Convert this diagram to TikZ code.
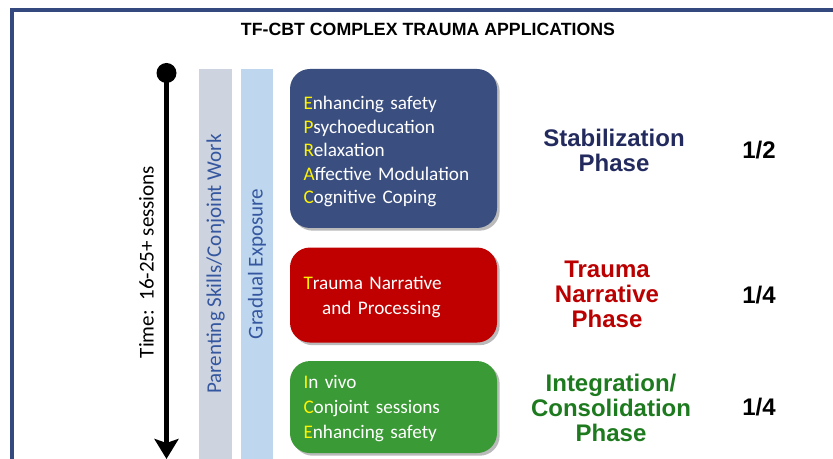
\documentclass[tikz,border=0pt]{standalone}
\usepackage{fontspec}
\setmainfont{Carlito}
\newfontfamily\headfont{Liberation Sans}
\usetikzlibrary{arrows.meta, positioning, shadows}
\definecolor{framecol}{HTML}{344A7E}
\definecolor{stabbox}{HTML}{3A4E80}
\definecolor{traumabox}{HTML}{C00000}
\definecolor{integbox}{HTML}{3A9A35}
\definecolor{parentbar}{HTML}{CDD3DF}
\definecolor{exposbar}{HTML}{BED6EE}
\definecolor{bartext}{HTML}{3557A0}
\definecolor{stabtext}{HTML}{232B5E}
\definecolor{traumatext}{HTML}{BA0000}
\definecolor{integtext}{HTML}{1E7A1E}
\newcommand{\yel}[1]{\textcolor{yellow}{#1}}
\tikzset{
  block/.style  = {rectangle, rounded corners=15pt, minimum width=155.25pt,
                   text width=135pt, inner xsep=10pt, align=left, text=white,
                   font=\fontsize{14.4}{17.6}\selectfont,
                   drop shadow={shadow xshift=2pt, shadow yshift=-2pt,
                                fill=black!45, opacity=0.6}},
  band/.style   = {rectangle, rotate=90, minimum width=292.5pt, inner sep=0pt,
                   text=bartext, font=\fontsize{15.8}{18}\selectfont},
  phase/.style  = {align=center, font=\headfont\bfseries\fontsize{18}{18.8}\selectfont},
  share/.style  = {font=\headfont\bfseries\fontsize{18}{18.8}\selectfont}
}

\begin{document}
\begin{tikzpicture}[x=0.75pt, y=-0.75pt]
  \useasboundingbox (0,0) rectangle (833,459);
  \clip (0,0) rectangle (833,459);
  \draw[framecol, line width=3pt] (11.5,9.8) rectangle (900,520);

  \node (title) [font=\headfont\bfseries\fontsize{13.3}{15}\selectfont] at (428,29)
    {TF-CBT COMPLEX TRAUMA APPLICATIONS};

  % time line
  \node (tstart) [circle, fill=black, minimum size=15pt, inner sep=0pt] at (166.5,73) {};
  \coordinate (tend) at (166.5,459);
  \draw[line width=4pt, -{Stealth[length=15pt, width=18pt, inset=3pt]}] (tstart.center) -- (tend);
  \node (time) [rotate=90, font=\fontsize{15.8}{18}\selectfont] at (146.5,262)
    {Time:\ \ 16-25+ sessions};

  % bands
  \node (parent) [band, fill=parentbar, minimum height=24.75pt] at (215.5,264)
    {Parenting Skills/Conjoint Work};
  \node (expos) [band, fill=exposbar, minimum height=24pt] at (257,264)
    {Gradual Exposure};

  % phase boxes
  \node (stab) [block, fill=stabbox, minimum height=119.25pt] at (393.5,148.5)
    {\rule{0pt}{15pt}\yel{E}nhancing safety\\ \yel{P}sychoeducation\\ \yel{R}elaxation\\
     \yel{A}ffective Modulation\\ \yel{C}ognitive Coping};
  \node (trauma) [block, fill=traumabox, minimum height=71.25pt, below=14.25pt of stab,
                  font=\fontsize{14.4}{18.75}\selectfont]
    {\rule{0pt}{13.5pt}\yel{T}rauma Narrative\\ \hspace*{14pt}and Processing};
  \node (integ) [block, fill=integbox, minimum height=69pt, below=13.5pt of trauma,
                 font=\fontsize{14.4}{18.75}\selectfont]
    {\rule{0pt}{12.5pt}\yel{I}n vivo\\ \yel{C}onjoint sessions\\ \yel{E}nhancing safety};

  % phase names
  \node (stabname) [phase, text=stabtext] at (614,150) {Stabilization\\ Phase};
  \node (traumaname) [phase, text=traumatext] at (607,294.5) {Trauma\\ Narrative\\ Phase};
  \node (integname) [phase, text=integtext] at (611,408) {Integration/\\ Consolidation\\ Phase};

  % shares
  \node (stabshare) [share] at (759,150) {1/2};
  \node (traumashare) [share] at (759,295) {1/4};
  \node (integshare) [share] at (759,407) {1/4};
\end{tikzpicture}
\end{document}
